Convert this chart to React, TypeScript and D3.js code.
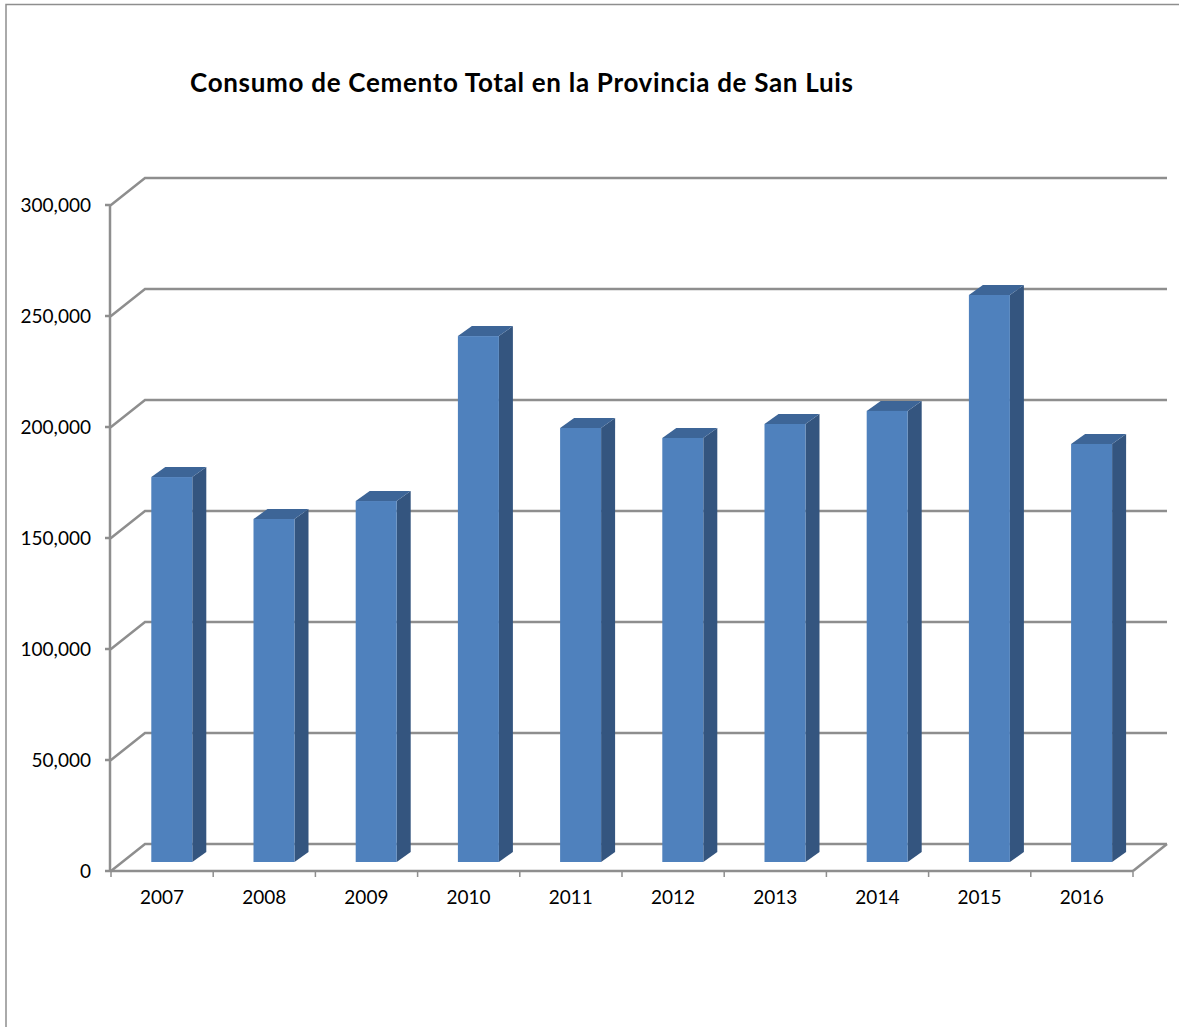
import React from "react";
import * as d3 from "d3";

const titleText = "Consumo de Cemento Total en la Provincia de San Luis";
const years = ["2007","2008","2009","2010","2011","2012","2013","2014","2015","2016"];
const consumo = [173400,154500,162600,236900,195500,191000,197300,203200,255400,188300];
const yTicks = [0,50000,100000,150000,200000,250000,300000];

const W = 1179, H = 1027;
const left = 111, right = 1133, y0 = 871, y300 = 205;
const depthX = 34, depthY = 27;
const barDepthX = 14, barDepthY = 10, barBaseLift = 9;
const grey = "#8e8e8e";

export default function App() {
  const y = d3.scaleLinear().domain([0,300000]).range([y0,y300]);
  const xEdge = d3.scaleLinear().domain([0,years.length]).range([left,right]);
  const fmt = d3.format(",");
  const bw = 41;
  return (
    <svg width={W} height={H} style={{position:"absolute",left:0,top:0,background:"#fff"}} fontFamily="Lato, 'Open Sans', sans-serif">
      <path d={`M6,${H} V4.5 H${W}`} fill="none" stroke={grey} strokeWidth={1.5}/>
      <text x={190} y={92} fontSize={26} fontWeight={700} fill="#000" textLength={663} lengthAdjust="spacing">{titleText}</text>
      <g stroke={grey} strokeWidth={2.5} fill="none">
        <line x1={left-1} x2={left-1} y1={y0} y2={y300}/>
        <line x1={left} x2={right} y1={y0} y2={y0}/>
        {yTicks.map(t=>(
          <path key={t} d={`M${left-6},${y(t)} H${left} L${left+depthX},${y(t)-depthY} H${right+depthX}`}/>
        ))}
        <line x1={right} y1={y0} x2={right+depthX} y2={y0-depthY}/>
        {d3.range(years.length+1).map(i=>(
          <line key={i} x1={xEdge(i)} x2={xEdge(i)} y1={y0} y2={y0+6} strokeWidth={1.5}/>
        ))}
      </g>
      {yTicks.map(t=>(
        <text key={t} x={91} y={y(t)+7} textAnchor="end" fontSize={19} fill="#000">{fmt(t)}</text>
      ))}
      {years.map((yr,i)=>{
        const bx = xEdge(i)+40.3;
        const base = y0-barBaseLift;
        const top = y(consumo[i])-barBaseLift;
        return (
          <g key={yr}>
            <path d={`M${bx+bw},${top} L${bx+bw+barDepthX},${top-barDepthY} V${base-barDepthY} L${bx+bw},${base} Z`} fill="#34557f"/>
            <path d={`M${bx},${top} L${bx+barDepthX},${top-barDepthY} H${bx+bw+barDepthX} L${bx+bw},${top} Z`} fill="#3d6597"/>
            <rect x={bx} y={top} width={bw} height={base-top} fill="#4f81bd"/>
            <text x={xEdge(i)+51} y={y0+33} textAnchor="middle" fontSize={19} fill="#000">{yr}</text>
          </g>
        );
      })}
    </svg>
  );
}
